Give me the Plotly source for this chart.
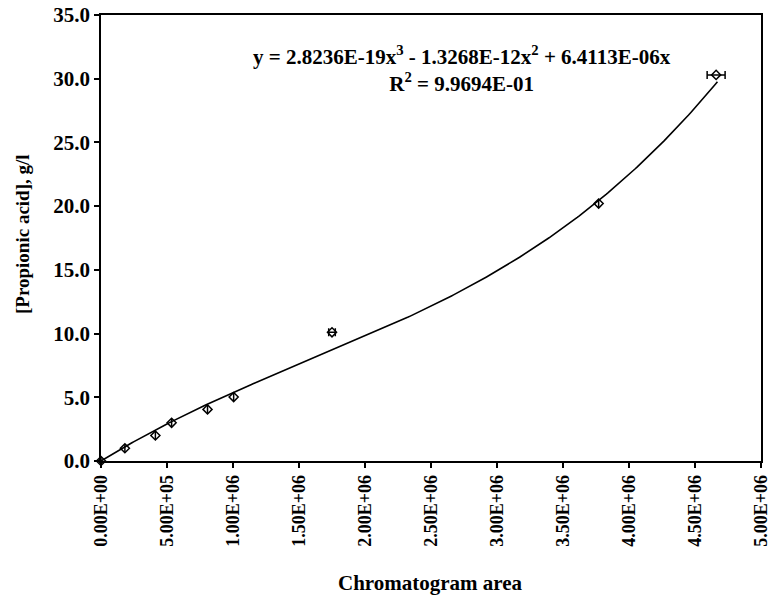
import numpy as np
import plotly.graph_objects as go

# Data
area = [0.0, 1.81e5, 4.12e5, 5.35e5, 8.07e5, 1.005e6, 1.75e6, 3.77e6, 4.66e6]
conc = [0.0, 1.0, 2.0, 3.0, 4.05, 5.02, 10.1, 20.2, 30.3]
area_err = [0, 0, 0, 0, 0, 0, 2.5e4, 0, 6.8e4]

# Trendline coefficients as printed on the chart
c3, c2, c1 = 2.8236e-19, -1.3268e-12, 6.4113e-06
fit_max = 4.67e6

x_ticks = [0, 5e5, 1e6, 1.5e6, 2e6, 2.5e6, 3e6, 3.5e6, 4e6, 4.5e6, 5e6]
x_ticktext = ["0.00E+00", "5.00E+05", "1.00E+06", "1.50E+06", "2.00E+06", "2.50E+06",
              "3.00E+06", "3.50E+06", "4.00E+06", "4.50E+06", "5.00E+06"]
y_ticks = [0, 5, 10, 15, 20, 25, 30, 35]
y_ticktext = ["0.0", "5.0", "10.0", "15.0", "20.0", "25.0", "30.0", "35.0"]

xf = np.linspace(0, fit_max, 300)
yf = c3 * xf**3 + c2 * xf**2 + c1 * xf

FONT = "Liberation Serif"
W, H = 772, 602
L, R, T, B = 101, 772 - 761, 15, 602 - 461
pw, ph = W - L - R, H - T - B


def px(xr):
    return (xr - L) / pw


def py(yr):
    return (H - B - yr) / ph


fig = go.Figure()
fig.add_trace(go.Scatter(x=xf, y=yf, mode="lines",
                         line=dict(color="black", width=1.6), showlegend=False,
                         hoverinfo="skip"))
fig.add_trace(go.Scatter(
    x=area, y=conc, mode="markers",
    marker=dict(symbol="diamond-open", size=7, color="black", line=dict(width=1.5)),
    error_x=dict(type="data", array=area_err, visible=True, color="black",
                 thickness=1.5, width=4),
    showlegend=False, cliponaxis=False))

fig.update_layout(
    width=W, height=H,
    margin=dict(l=L, r=R, t=T, b=B),
    paper_bgcolor="white", plot_bgcolor="white",
    font=dict(family=FONT, size=17, color="black"),
    xaxis=dict(range=[0, 5e6], tickvals=x_ticks,
               ticktext=["<b>%s</b>" % t for t in x_ticktext],
               tickangle=-90, ticks="outside", ticklen=5, tickwidth=1.5,
               tickcolor="black", showline=True, linecolor="black", linewidth=1.5,
               mirror=True, showgrid=False, zeroline=False, automargin=False,
               ticklabeloverflow="allow",
               tickfont=dict(family=FONT, size=18, color="black")),
    yaxis=dict(range=[0, 35], tickvals=y_ticks,
               ticktext=["<b>%s</b>" % t for t in y_ticktext],
               ticks="outside", ticklen=5, tickwidth=1.5, tickcolor="black",
               showline=True, linecolor="black", linewidth=1.5, mirror=True,
               showgrid=False, zeroline=False, automargin=False,
               ticklabeloverflow="allow",
               tickfont=dict(family=FONT, size=21, color="black")),
)

# equation of the trendline
fig.add_annotation(
    x=px(462), y=py(40), xref="paper", yref="paper",
    xanchor="center", yanchor="top", showarrow=False, align="center",
    text="<b>y = 2.8236E-19x<sup>3</sup> - 1.3268E-12x<sup>2</sup> + 6.4113E-06x<br>"
         "R<sup>2</sup> = 9.9694E-01</b>",
    font=dict(family=FONT, size=21, color="black"))

# x-axis title
fig.add_annotation(
    x=px(430), y=py(583), xref="paper", yref="paper",
    xanchor="center", yanchor="middle", showarrow=False,
    text="<b>Chromatogram area</b>",
    font=dict(family=FONT, size=21, color="black"))

# y-axis title
fig.add_annotation(
    x=px(22), y=py(234), xref="paper", yref="paper",
    xanchor="center", yanchor="middle", showarrow=False, textangle=-90,
    text="<b>[Propionic acid], g/l</b>",
    font=dict(family=FONT, size=19, color="black"))

fig.write_html(
    "out.html",
    config={"displayModeBar": False},
    post_script="document.body.style.margin='0';"
                "document.body.style.overflow='hidden';")
